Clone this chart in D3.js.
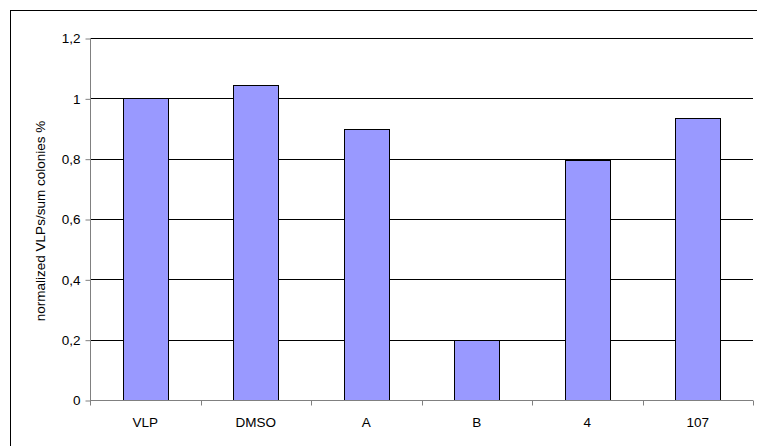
<!DOCTYPE html>
<html><head><meta charset="utf-8">
<script src="https://cdn.jsdelivr.net/npm/d3@7"></script>
<style>body{margin:0;background:#fff}svg{display:block}text{font-family:"Liberation Sans",Arial,sans-serif}</style>
</head><body>
<svg id="c" width="757" height="446"></svg>
<script>
const categories = ["VLP","DMSO","A","B","4","107"];
const values = [1.0, 1.045, 0.897, 0.2, 0.796, 0.934];
const yTicks = [0, 0.2, 0.4, 0.6, 0.8, 1.0, 1.2];
const yTickLabels = ["0","0,2","0,4","0,6","0,8","1","1,2"];
const yLabel = "normalized VLPs/sum colonies %";

const svg = d3.select("#c");
const L = 90, R = 753, T = 38, B = 400;
const FS = 13.5;
svg.append("rect").attr("x",10.5).attr("y",10.5).attr("width",800).attr("height",500)
  .attr("fill","none").attr("stroke","#000").attr("stroke-width",1);

const x = d3.scaleBand().domain(categories).range([L,R]).paddingInner(0.593).paddingOuter(0.2965);
const y = d3.scaleLinear().domain([0,1.2]).range([B,T]);

// gridlines
svg.append("g").selectAll("line").data(yTicks.filter(d=>d>0)).join("line")
  .attr("x1",L).attr("x2",R).attr("y1",d=>Math.round(y(d))+0.5).attr("y2",d=>Math.round(y(d))+0.5)
  .attr("stroke","#000").attr("stroke-width",1);

// bars
svg.append("g").selectAll("rect").data(values).join("rect")
  .attr("x",(d,i)=>Math.round(x(categories[i]))+0.5)
  .attr("y",d=>Math.round(y(d))+0.5)
  .attr("width",Math.round(x.bandwidth()))
  .attr("height",d=>Math.round(B)-Math.round(y(d)))
  .attr("fill","#9999ff").attr("stroke","#000").attr("stroke-width",1);

// y axis
const yAxis = d3.axisLeft(y).tickValues(yTicks).tickFormat((d,i)=>yTickLabels[i]).tickSize(5).tickPadding(5);
const gy = svg.append("g").attr("transform",`translate(${L+0.5},0.5)`).call(yAxis);
gy.select(".domain").attr("stroke","#808080").attr("d",`M0,${T-0.5}V${B}`);
gy.selectAll(".tick line").attr("stroke","#808080");
gy.selectAll("text").attr("font-size",FS).attr("fill","#000").attr("font-family","Liberation Sans, Arial, sans-serif");

// x axis
const xPos = d3.scaleLinear().domain([0,categories.length]).range([L,R]);
const gx = svg.append("g").attr("transform",`translate(0,${B+0.5})`);
gx.append("line").attr("x1",L).attr("x2",R).attr("y1",0).attr("y2",0).attr("stroke","#808080");
gx.selectAll("line.t").data(d3.range(categories.length+1)).join("line").attr("class","t")
  .attr("x1",d=>Math.round(xPos(d))+0.5).attr("x2",d=>Math.round(xPos(d))+0.5).attr("y1",0).attr("y2",5).attr("stroke","#808080");
gx.selectAll("text").data(categories).join("text")
  .attr("x",d=>x(d)+x.bandwidth()/2).attr("y",26.5).attr("text-anchor","middle")
  .attr("font-size",FS).attr("fill","#000").text(d=>d);

// y label
svg.append("text").attr("transform",`translate(45,${(T+B)/2+2}) rotate(-90)`)
  .attr("text-anchor","middle").attr("font-size",FS).attr("fill","#000").text(yLabel);
</script>
</body></html>
